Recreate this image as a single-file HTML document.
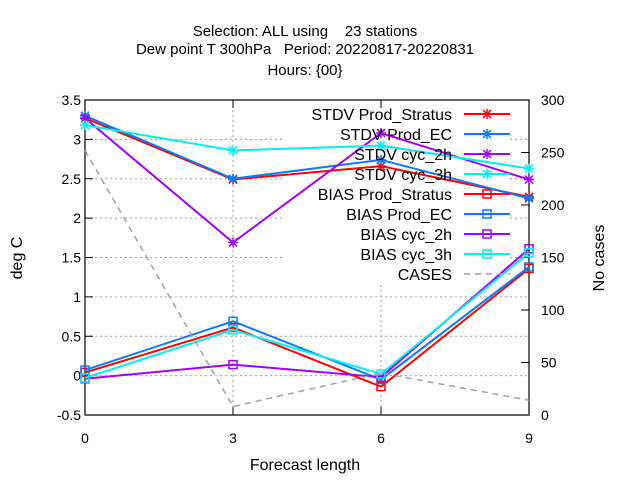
<!DOCTYPE html>
<html><head><meta charset="utf-8"><style>
html,body{margin:0;padding:0;background:#fff;}
svg{display:block;font-family:"Liberation Sans",sans-serif;}
</style></head><body>
<svg id="chart" width="640" height="480" viewBox="0 0 640 480">
<rect width="640" height="480" fill="#fff"/>
<g font-size="15" text-anchor="middle" fill="#000">
<text x="305" y="36" xml:space="preserve">Selection: ALL using    23 stations</text>
<text x="305" y="54" xml:space="preserve">Dew point T 300hPa   Period: 20220817-20220831</text>
<text x="305" y="75">Hours: {00}</text>
</g>
<g id="grid"></g>
<rect x="285" y="101" width="225" height="181" fill="#fff"/>
<g id="axes"></g>
<g id="series"></g>
<g id="legend"></g>
<text x="305" y="470" font-size="16" text-anchor="middle">Forecast length</text>
<text transform="translate(22,258) rotate(-90)" font-size="16" text-anchor="middle">deg C</text>
<text transform="translate(604,258) rotate(-90)" font-size="16" text-anchor="middle">No cases</text>
</svg>
<script>
const categories = [0, 3, 6, 9];
const yTicks = [-0.5, 0, 0.5, 1, 1.5, 2, 2.5, 3, 3.5];
const y2Ticks = [0, 50, 100, 150, 200, 250, 300];
const stdvStratus = [3.27, 2.49, 2.66, 2.27];
const stdvEC = [3.3, 2.5, 2.74, 2.25];
const stdvCyc2h = [3.27, 1.69, 3.08, 2.49];
const stdvCyc3h = [3.18, 2.86, 2.92, 2.63];
const biasStratus = [0.04, 0.61, -0.14, 1.36];
const biasEC = [0.07, 0.69, -0.05, 1.38];
const biasCyc2h = [-0.04, 0.14, -0.02, 1.61];
const biasCyc3h = [-0.03, 0.58, 0.02, 1.56];
const cases = [252, 8, 40, 14];

const L=85,R=529,T=100,B=415;
const xs=v=>L+(v-0)/(9-0)*(R-L);
const ys=v=>B-(v+0.5)/4*(B-T);
const y2s=v=>B-v/300*(B-T);
const NS='http://www.w3.org/2000/svg';
function mk(tag,attrs,parent){const e=document.createElementNS(NS,tag);for(const k in attrs)e.setAttribute(k,attrs[k]);parent.appendChild(e);return e;}
const grid=document.getElementById('grid'),axes=document.getElementById('axes'),series=document.getElementById('series'),legend=document.getElementById('legend');

yTicks.forEach(t=>{const y=ys(t);
 if(t>-0.5&&t<3.5){const g=mk('line',{x1:L,x2:R,y1:y,y2:y,stroke:'#a0a0a0','stroke-width':1,'stroke-dasharray':'2,3'},grid);
 
 }
 mk('line',{x1:L,x2:L+8,y1:y,y2:y,stroke:'#000'},axes);
 const tx=mk('text',{x:L-4,y:y+5,'font-size':14,'text-anchor':'end'},axes);tx.textContent=String(t);
 
 
});
y2Ticks.forEach(t=>{const y=y2s(t);
 mk('line',{x1:R-8,x2:R,y1:y,y2:y,stroke:'#000'},axes);
 const tx=mk('text',{x:R+12,y:y+5,'font-size':14,'text-anchor':'start'},axes);tx.textContent=String(t);
 
 
});
categories.forEach(c=>{const x=xs(c);
 if(c>0&&c<9){const g=mk('line',{x1:x,x2:x,y1:T,y2:B,stroke:'#a0a0a0','stroke-width':1,'stroke-dasharray':'2,3'},grid);
 
 }
 mk('line',{x1:x,x2:x,y1:B,y2:B-8,stroke:'#000'},axes);
 mk('line',{x1:x,x2:x,y1:T,y2:T+8,stroke:'#000'},axes);
 const tx=mk('text',{x:x,y:B+28,'font-size':14,'text-anchor':'middle'},axes);tx.textContent=String(c);
 
 
});
const frame=mk('rect',{x:L,y:T,width:R-L,height:B-T,fill:'none',stroke:'#000','stroke-width':1.2},axes);



function marker(g,x,y,type,col){
 if(type==='star'){mk('path',{d:`M${x-4} ${y-4}L${x+4} ${y+4}M${x-4} ${y+4}L${x+4} ${y-4}M${x-5} ${y}H${x+5}M${x} ${y-5}V${y+5}`,stroke:col,'stroke-width':1.5,fill:'none'},g);}
 else if(type==='sq'){mk('rect',{x:x-4,y:y-4,width:8,height:8,fill:'none',stroke:col,'stroke-width':1.5},g);}
}
const defs=[
 ['STDV Prod_Stratus',stdvStratus,'#ff0000','star','stdv-prod-stratus'],
 ['STDV Prod_EC',stdvEC,'#0a7bff','star','stdv-prod-ec'],
 ['STDV cyc_2h',stdvCyc2h,'#a400ff','star','stdv-cyc-2h'],
 ['STDV cyc_3h',stdvCyc3h,'#00f0f0','star','stdv-cyc-3h'],
 ['BIAS Prod_Stratus',biasStratus,'#ff0000','sq','bias-prod-stratus'],
 ['BIAS Prod_EC',biasEC,'#0a7bff','sq','bias-prod-ec'],
 ['BIAS cyc_2h',biasCyc2h,'#a400ff','sq','bias-cyc-2h'],
 ['BIAS cyc_3h',biasCyc3h,'#00f0f0','sq','bias-cyc-3h'],
 ['CASES',cases,'#a0a0a0','none','cases']
];
defs.forEach((d,i)=>{
 const [label,vals,col,type,name]=d;
 const g=mk('g',{},series);
 
 
 const sc=type==='none'?y2s:ys;
 const pts=vals.map((v,j)=>xs(categories[j])+','+sc(v)).join(' ');
 const pl=mk('polyline',{points:pts,fill:'none',stroke:col,'stroke-width':type==='none'?1.5:2,'stroke-dasharray':type==='none'?'6,5':'none'},g);
 
 
 vals.forEach((v,j)=>marker(g,xs(categories[j]),sc(v),type,col));
 const ly=114+i*20;
 const lg=mk('g',{},legend);
 
 
 const t=mk('text',{x:452,y:ly+6,'font-size':16,'text-anchor':'end'},lg);t.textContent=label;
 mk('line',{x1:464,x2:510,y1:ly,y2:ly,stroke:col,'stroke-width':type==='none'?1.5:2,'stroke-dasharray':type==='none'?'6,5':'none'},lg);
 marker(lg,487,ly,type,col);
});
</script>
</body></html>
